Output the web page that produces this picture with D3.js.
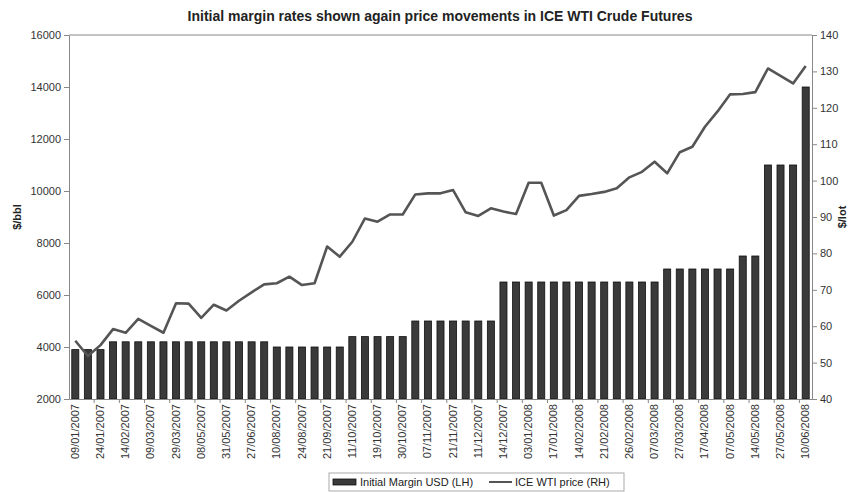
<!DOCTYPE html>
<html>
<head>
<meta charset="utf-8">
<script src="https://cdn.jsdelivr.net/npm/d3@7"></script>
<style>
  body { margin: 0; background: #fff; }
  svg text { font-family: "Liberation Sans", Arial, sans-serif; fill: #222; }
</style>
</head>
<body>
<div id="chart"></div>
<script>
// initial margin (USD per lot), one value per period
const marginValues = [
  3900, 3900, 3900,
  4200, 4200, 4200, 4200, 4200, 4200, 4200, 4200, 4200, 4200, 4200, 4200, 4200,
  4000, 4000, 4000, 4000, 4000, 4000,
  4400, 4400, 4400, 4400, 4400,
  5000, 5000, 5000, 5000, 5000, 5000, 5000,
  6500, 6500, 6500, 6500, 6500, 6500, 6500, 6500, 6500, 6500, 6500, 6500, 6500,
  7000, 7000, 7000, 7000, 7000, 7000,
  7500, 7500,
  11000, 11000, 11000,
  14000
];

// ICE WTI price ($), same periods
const priceValues = [
  56.0, 51.8, 54.8, 59.2, 58.2, 62.0, 60.1, 58.2, 66.3, 66.2,
  62.3, 65.9, 64.3, 67.0, 69.3, 71.5, 71.8, 73.6, 71.3, 71.8,
  81.9, 79.1, 83.2, 89.6, 88.7, 90.7, 90.7, 96.2, 96.5, 96.5,
  97.4, 91.3, 90.3, 92.4, 91.5, 90.8, 99.4, 99.4, 90.4, 91.9,
  95.8, 96.3, 96.9, 97.9, 100.9, 102.4, 105.2, 102.0, 107.8, 109.3,
  114.8, 119.0, 123.7, 123.8, 124.3, 130.8, 128.8, 126.7, 131.5
];

// labels shown on every second period
const dateLabels = [
  "09/01/2007", "24/01/2007", "14/02/2007", "09/03/2007", "29/03/2007",
  "08/05/2007", "31/05/2007", "27/06/2007", "10/08/2007", "24/08/2007",
  "21/09/2007", "11/10/2007", "19/10/2007", "30/10/2007", "07/11/2007",
  "21/11/2007", "11/12/2007", "14/12/2007", "03/01/2008", "17/01/2008",
  "14/02/2008", "21/02/2008", "26/02/2008", "07/03/2008", "27/03/2008",
  "17/04/2008", "07/05/2008", "14/05/2008", "27/05/2008", "10/06/2008"
];

const leftTicks = [2000, 4000, 6000, 8000, 10000, 12000, 14000, 16000];
const rightTicks = [40, 50, 60, 70, 80, 90, 100, 110, 120, 130, 140];

var width = 858, height = 492;
var margin = {top: 35, right: 46, bottom: 93, left: 69};
var plotW = width - margin.left - margin.right,
    plotH = height - margin.top - margin.bottom;

var svg = d3.select("#chart").append("svg")
    .attr("width", width)
    .attr("height", height);

var g = svg.append("g")
    .attr("transform", "translate(" + margin.left + "," + margin.top + ")");

var idx = d3.range(marginValues.length);

var x = d3.scaleBand()
    .domain(idx)
    .range([0, plotW])
    .paddingInner(0.44)
    .paddingOuter(0.22);

var yL = d3.scaleLinear().domain([2000, 16000]).range([plotH, 0]);
var yR = d3.scaleLinear().domain([40, 140]).range([plotH, 0]);

// frame (top border)
g.append("line")
    .attr("x1", 0).attr("x2", plotW)
    .attr("y1", 0).attr("y2", 0)
    .attr("stroke", "#888").attr("stroke-width", 1);

// bars
g.selectAll("rect.bar")
    .data(idx)
    .enter()
    .append("rect")
    .attr("class", "bar")
    .attr("x", function(i) { return x(i); })
    .attr("y", function(i) { return yL(marginValues[i]); })
    .attr("width", x.bandwidth())
    .attr("height", function(i) { return plotH - yL(marginValues[i]); })
    .attr("fill", "#3a3a3a")
    .attr("stroke", "#111")
    .attr("stroke-width", 0.8);

// price line
var line = d3.line()
    .x(function(i) { return x(i) + x.bandwidth() / 2; })
    .y(function(i) { return yR(priceValues[i]); });

g.append("path")
    .datum(idx)
    .attr("d", line)
    .attr("fill", "none")
    .attr("stroke", "#555")
    .attr("stroke-width", 2.6)
    .attr("stroke-linejoin", "round");

// axes
var leftAxis = g.append("g")
    .call(d3.axisLeft(yL).tickValues(leftTicks).tickFormat(d3.format("d"))
        .tickSize(5).tickSizeOuter(0).tickPadding(3));

var rightAxis = g.append("g")
    .attr("transform", "translate(" + plotW + ",0)")
    .call(d3.axisRight(yR).tickValues(rightTicks).tickFormat(d3.format("d"))
        .tickSize(5).tickSizeOuter(0).tickPadding(3));

var step = x.step();
var xAxis = g.append("g")
    .attr("transform", "translate(0," + plotH + ")")
    .call(d3.axisBottom(x)
        .tickValues(idx.filter(function(i) { return i % 2 === 0; }))
        .tickFormat(function(i) { return dateLabels[i / 2]; })
        .tickSize(0)
        .tickSizeOuter(0));

xAxis.selectAll("text")
    .attr("transform", "rotate(-90)")
    .attr("text-anchor", "end")
    .attr("dx", "-5")
    .attr("dy", "0.32em")
    .attr("y", 0);

// small tick marks between every second category
xAxis.selectAll("line.sep")
    .data(d3.range(2, marginValues.length, 2))
    .enter()
    .append("line")
    .attr("class", "sep")
    .attr("x1", function(k) { return x(k) - step * x.paddingInner() / 2; })
    .attr("x2", function(k) { return x(k) - step * x.paddingInner() / 2; })
    .attr("y1", 0).attr("y2", 4)
    .attr("stroke", "#888");

[leftAxis, rightAxis, xAxis].forEach(function(a) {
    a.selectAll(".domain").attr("stroke", "#888");
    a.selectAll(".tick line").attr("stroke", "#888");
    a.selectAll("text").style("font-size", "11px").style("fill", "#333");
});

// title
svg.append("text")
    .attr("x", 440)
    .attr("y", 21)
    .attr("text-anchor", "middle")
    .style("font-size", "14px")
    .style("font-weight", "bold")
    .text("Initial margin rates shown again price movements in ICE WTI Crude Futures");

// axis titles
svg.append("text")
    .attr("transform", "translate(21," + (margin.top + plotH / 2) + ") rotate(-90)")
    .attr("text-anchor", "middle")
    .style("font-size", "11px")
    .style("font-weight", "bold")
    .text("$/bbl");

svg.append("text")
    .attr("transform", "translate(846," + (margin.top + plotH / 2) + ") rotate(-90)")
    .attr("text-anchor", "middle")
    .style("font-size", "11px")
    .style("font-weight", "bold")
    .text("$/lot");

// legend
var legend = svg.append("g").attr("transform", "translate(329,473)");
legend.append("rect")
    .attr("width", 295).attr("height", 18)
    .attr("fill", "#fff").attr("stroke", "#aaa");
legend.append("rect")
    .attr("x", 4).attr("y", 6).attr("width", 23).attr("height", 6)
    .attr("fill", "#3a3a3a").attr("stroke", "#111").attr("stroke-width", 0.8);
legend.append("text")
    .attr("x", 31).attr("y", 13)
    .style("font-size", "11px")
    .text("Initial Margin USD (LH)");
legend.append("line")
    .attr("x1", 160).attr("x2", 183).attr("y1", 9).attr("y2", 9)
    .attr("stroke", "#555").attr("stroke-width", 2);
legend.append("text")
    .attr("x", 186).attr("y", 13)
    .style("font-size", "11px")
    .text("ICE WTI price (RH)");
</script>
</body>
</html>
